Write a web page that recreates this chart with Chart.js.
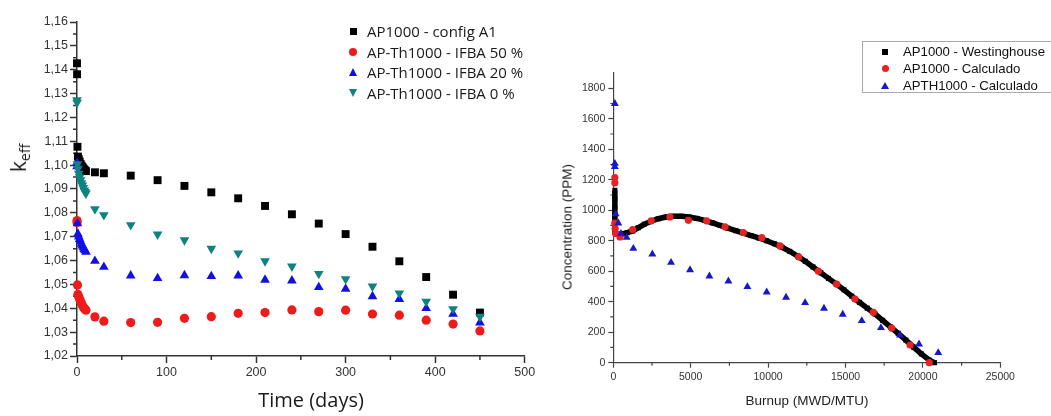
<!DOCTYPE html>
<html>
<head>
<meta charset="utf-8">
<script src="https://cdn.jsdelivr.net/npm/chart.js"></script>
<style>
  body { margin: 0; background: #fff; }
  .wrap { position: relative; width: 1051px; height: 416px; overflow: hidden; }
  canvas { position: absolute; top: 0; }
  #keffChart { left: 0; }
  #boronChart { left: 545px; }
  .title { position: absolute; white-space: nowrap; transform: translate(-50%, -50%); }
  .rot { transform: translate(-50%, -50%) rotate(-90deg); }
  #keffYTitle { left: 19px; top: 158px; font-family: 'Open Sans', sans-serif; font-size: 21px; color: #1a1a1a; }
  #keffYTitle sub { font-size: 14px; vertical-align: -4px; }
  #keffXTitle { left: 311px; top: 399px; font-family: 'Open Sans', sans-serif; font-size: 20px; color: #1a1a1a; }
  #ppmYTitle { left: 567px; top: 227px; font-family: 'Liberation Sans', sans-serif; font-size: 13.5px; color: #222; }
  #ppmXTitle { left: 807px; top: 400px; font-family: 'Liberation Sans', sans-serif; font-size: 13.5px; color: #222; }
  .legend-left { position: absolute; left: 347px; top: 21px; font-family: 'Open Sans', sans-serif; font-size: 15px; color: #1a1a1a; }
  .legend-left .row { height: 20.6px; display: flex; align-items: center; }
  .legend-left .mk { width: 12px; display: flex; justify-content: center; margin-right: 8px; }
  .legend-right { position: absolute; left: 862px; top: 41px; width: 200px; height: 52px; border: 1px solid #aaa; font-family: 'Liberation Sans', sans-serif; font-size: 13.2px; color: #111; box-sizing: border-box; padding-top: 1px; }
  .legend-right .row { height: 17px; display: flex; align-items: center; }
  .legend-right .mk { width: 12px; display: flex; justify-content: center; margin-left: 16px; margin-right: 12px; }
  .sq { background: #000; }
  .ci { border-radius: 50%; }
  .up { width: 0; height: 0; border-left-style: solid; border-right-style: solid; border-bottom-style: solid; border-left-color: transparent; border-right-color: transparent; }
  .dn { width: 0; height: 0; border-left-style: solid; border-right-style: solid; border-top-style: solid; border-left-color: transparent; border-right-color: transparent; }
</style>
</head>
<body>
<div class="wrap">
  <canvas id="keffChart" width="545" height="416"></canvas>
  <canvas id="boronChart" width="506" height="416"></canvas>

  <div id="keffYTitle" class="title rot">k<sub>eff</sub></div>
  <div id="keffXTitle" class="title">Time (days)</div>
  <div id="ppmYTitle" class="title rot">Concentration (PPM)</div>
  <div id="ppmXTitle" class="title">Burnup (MWD/MTU)</div>

  <div class="legend-left" id="legendLeft"></div>
  <div class="legend-right" id="legendRight"></div>
</div>

<script>
// left panel: k-eff vs time
const days = [0, 0.1, 0.5, 1, 2, 3, 4, 5, 6, 7, 8, 9, 10, 20, 30, 60, 90, 120, 150, 180, 210, 240, 270, 300, 330, 360, 390, 420, 450];
const keffConfigA1 = [1.1427, 1.1381, 1.1077, 1.1036, 1.1025, 1.1015, 1.1005, 1.0998, 1.0992, 1.0987, 1.0982, 1.0978, 1.0975,
  1.0970, 1.0966, 1.0956, 1.0937, 1.0913, 1.0886, 1.0861, 1.0829, 1.0794, 1.0755, 1.0711, 1.0658, 1.0597, 1.0531, 1.0457, 1.0382];
const keffIfba50 = [1.0768, 1.0760, 1.0498, 1.0458, 1.0448, 1.0438, 1.0428, 1.0420, 1.0412, 1.0405, 1.0400, 1.0395, 1.0392,
  1.0364, 1.0346, 1.0340, 1.0341, 1.0358, 1.0365, 1.0379, 1.0382, 1.0393, 1.0386, 1.0392, 1.0376, 1.0371, 1.0350, 1.0334, 1.0305];
const keffIfba20 = [1.1010, 1.0995, 1.0756, 1.0712, 1.0700, 1.0690, 1.0680, 1.0670, 1.0662, 1.0655, 1.0648, 1.0642, 1.0636,
  1.0598, 1.0573, 1.0537, 1.0526, 1.0538, 1.0534, 1.0537, 1.0519, 1.0516, 1.0488, 1.0481, 1.0450, 1.0438, 1.0400, 1.0376, 1.0340];
const keffIfba0 = [1.1273, 1.1262, 1.1005, 1.0985, 1.0965, 1.0950, 1.0938, 1.0925, 1.0915, 1.0905, 1.0895, 1.0888, 1.0882,
  1.0816, 1.0791, 1.0749, 1.0710, 1.0686, 1.0650, 1.0631, 1.0598, 1.0576, 1.0545, 1.0523, 1.0492, 1.0463, 1.0428, 1.0397, 1.0365];
const dayTicks = [0, 100, 200, 300, 400, 500];
const keffTicks = [1.02, 1.03, 1.04, 1.05, 1.06, 1.07, 1.08, 1.09, 1.10, 1.11, 1.12, 1.13, 1.14, 1.15, 1.16];

// right panel: boron concentration vs burnup
const westBurnup = [100, 100, 100, 100, 100, 100, 150, 350, 600, 900, 1250, 1600, 2000, 2450, 2900, 3400, 3900, 4400, 4900, 5400,
  5900, 6400, 6900, 7400, 7900, 8400, 8900, 9400, 9900, 10400, 10900, 11400, 11900, 12400, 12900, 13400, 13900, 14400, 14900,
  15400, 15900, 16400, 16900, 17400, 17900, 18400, 18900, 19400, 19900, 20400, 20750];
const westPpm = [1130, 1075, 1020, 965, 910, 860, 848, 842, 845, 853, 864, 885, 908, 928, 944, 955, 960, 960, 955, 946,
  933, 917, 900, 882, 866, 850, 834, 818, 800, 780, 757, 730, 700, 665, 628, 590, 553, 517, 478,
  437, 396, 358, 320, 278, 235, 193, 148, 102, 58, 18, 0];
const ap1000Burnup = [100, 100, 100, 120, 150, 430, 1250, 2450, 3660, 4850, 6030, 7220, 8400, 9590, 10770, 11975, 13245, 14430, 15610, 16800, 17980, 19170, 20410];
const ap1000Ppm = [1214, 1180, 915, 880, 848, 825, 873, 930, 956, 934, 930, 891, 854, 821, 766, 694, 600, 515, 417, 330, 227, 116, 0];
const apthBurnup = [100, 100, 100, 150, 325, 497, 863, 1295, 2522, 3729, 4957, 6207, 7436, 8663, 9910, 11160, 12390, 13610, 14820, 16050, 17290, 18520, 19750, 20990];
const apthPpm = [1699, 1306, 1285, 975, 915, 847, 821, 749, 712, 657, 609, 568, 535, 498, 463, 428, 393, 356, 317, 275, 229, 181, 122, 65];
const burnupTicks = [0, 5000, 10000, 15000, 20000, 25000];
const ppmTicks = [0, 200, 400, 600, 800, 1000, 1200, 1400, 1600, 1800];

const pts = (xs, ys) => xs.map((x, i) => ({ x, y: ys[i] }));

// short ticks half way between the major ones
const minorTicks = {
  id: 'minorTicks',
  beforeDatasetsDraw(chart, args, opts) {
    const { ctx, scales: { x, y } } = chart;
    const mids = arr => arr.slice(1).map((v, i) => (v + arr[i]) / 2);
    ctx.save();
    ctx.strokeStyle = opts.color;
    ctx.lineWidth = opts.width;
    ctx.beginPath();
    mids(x.ticks.map(t => t.value)).forEach(v => {
      const p = x.getPixelForValue(v);
      ctx.moveTo(p, y.bottom);
      ctx.lineTo(p, y.bottom + opts.length);
    });
    mids(y.ticks.map(t => t.value)).forEach(v => {
      const p = y.getPixelForValue(v);
      ctx.moveTo(x.left, p);
      ctx.lineTo(x.left - opts.length, p);
    });
    ctx.stroke();
    ctx.restore();
  }
};

const axis = (o) => ({
  type: 'linear',
  min: o.min,
  max: o.max,
  afterBuildTicks: s => { s.ticks = o.ticks.map(v => ({ value: v })); },
  afterFit: s => { if (o.width) s.width = o.width; if (o.height) s.height = o.height; },
  grid: { drawOnChartArea: false, tickLength: o.tickLength, tickColor: o.color, tickWidth: o.lineWidth },
  border: { color: o.color, width: o.lineWidth },
  ticks: { padding: o.padding, color: '#333', font: { family: 'Liberation Sans', size: o.fontSize }, maxRotation: 0, autoSkip: false, callback: o.format }
});

const leftSets = [
  { label: 'AP1000 - config A1', values: keffConfigA1, color: '#000000', style: 'rect', radius: 5.6, rot: 0, order: 4 },
  { label: 'AP-Th1000 - IFBA 50 %', values: keffIfba50, color: '#ee1b1b', style: 'circle', radius: 4.6, rot: 0, order: 3 },
  { label: 'AP-Th1000 - IFBA 20 %', values: keffIfba20, color: '#1111e6', style: 'triangle', radius: 5.6, rot: 0, order: 2 },
  { label: 'AP-Th1000 - IFBA 0 %', values: keffIfba0, color: '#0f8282', style: 'triangle', radius: 5.6, rot: 180, order: 1 }
];

new Chart(document.getElementById('keffChart'), {
  type: 'scatter',
  data: {
    datasets: leftSets.map(s => ({
      label: s.label,
      data: pts(days, s.values),
      pointStyle: s.style,
      pointRadius: s.radius,
      pointRotation: s.rot,
      pointBackgroundColor: s.color,
      pointBorderWidth: 0,
      order: s.order,
      clip: false
    }))
  },
  options: {
    responsive: false,
    animation: false,
    devicePixelRatio: 1,
    events: [],
    layout: { padding: { left: 0, top: 22, right: 20.3, bottom: 0 } },
    plugins: {
      legend: { display: false },
      tooltip: { enabled: false },
      minorTicks: { color: '#333', width: 1.5, length: 4 }
    },
    scales: {
      x: axis({ min: 0, max: 500, ticks: dayTicks, height: 60, tickLength: 7, padding: 2, color: '#333', lineWidth: 1.5, fontSize: 12.5 }),
      y: axis({ min: 1.02, max: 1.16, ticks: keffTicks, width: 77, tickLength: 7, padding: 2, color: '#333', lineWidth: 1.5, fontSize: 12.5,
        format: v => v.toFixed(2).replace('.', ',') })
    }
  },
  plugins: [minorTicks]
});

new Chart(document.getElementById('boronChart'), {
  type: 'scatter',
  data: {
    datasets: [
      { label: 'AP1000 - Westinghouse', data: pts(westBurnup, westPpm), showLine: true, borderColor: '#000', borderWidth: 5.5,
        pointStyle: 'rect', pointRadius: 3.6, pointBackgroundColor: '#000', pointBorderWidth: 0, order: 3, clip: false },
      { label: 'AP1000 - Calculado', data: pts(ap1000Burnup, ap1000Ppm), pointStyle: 'circle', pointRadius: 3.6,
        pointBackgroundColor: '#e62222', pointBorderWidth: 0, order: 2, clip: false },
      { label: 'APTH1000 - Calculado', data: pts(apthBurnup, apthPpm), pointStyle: 'triangle', pointRadius: 4.6,
        pointBackgroundColor: '#1818c8', pointBorderWidth: 0, order: 1, clip: false }
    ]
  },
  options: {
    responsive: false,
    animation: false,
    devicePixelRatio: 1,
    events: [],
    layout: { padding: { left: 0, top: 73, right: 50.7, bottom: 0 } },
    plugins: {
      legend: { display: false },
      tooltip: { enabled: false },
      minorTicks: { color: '#444', width: 1.2, length: 3 }
    },
    scales: {
      x: axis({ min: 0, max: 25000, ticks: burnupTicks, height: 53.3, tickLength: 5, padding: 3, color: '#444', lineWidth: 1.2, fontSize: 10.5 }),
      y: axis({ min: 0, max: 1900, ticks: ppmTicks, width: 68.3, tickLength: 5, padding: 3, color: '#444', lineWidth: 1.2, fontSize: 10.5 })
    }
  },
  plugins: [minorTicks]
});

// html legends
const marker = (style, color, size) => {
  if (style === 'rect') return `<div class="sq" style="width:${size}px;height:${size}px;background:${color}"></div>`;
  if (style === 'circle') return `<div class="ci" style="width:${size}px;height:${size}px;background:${color}"></div>`;
  const half = size / 2 + 0.5;
  const cls = style === 'up' ? 'up' : 'dn';
  const side = style === 'up' ? 'border-bottom' : 'border-top';
  return `<div class="${cls}" style="border-left-width:${half}px;border-right-width:${half}px;${side}-width:${size}px;${side}-color:${color}"></div>`;
};

document.getElementById('legendLeft').innerHTML = [
  ['AP1000 - config A1', 'rect', '#000', 7],
  ['AP-Th1000 - IFBA 50 %', 'circle', '#ee1b1b', 8],
  ['AP-Th1000 - IFBA 20 %', 'up', '#1111e6', 8],
  ['AP-Th1000 - IFBA 0 %', 'down', '#0f8282', 8]
].map(([t, s, c, z]) => `<div class="row"><div class="mk">${marker(s, c, z)}</div><span>${t}</span></div>`).join('');

document.getElementById('legendRight').innerHTML = [
  ['AP1000 - Westinghouse', 'rect', '#000', 6],
  ['AP1000 - Calculado', 'circle', '#e62222', 7],
  ['APTH1000 - Calculado', 'up', '#1818c8', 7]
].map(([t, s, c, z]) => `<div class="row"><div class="mk">${marker(s, c, z)}</div><span>${t}</span></div>`).join('');
</script>
</body>
</html>
